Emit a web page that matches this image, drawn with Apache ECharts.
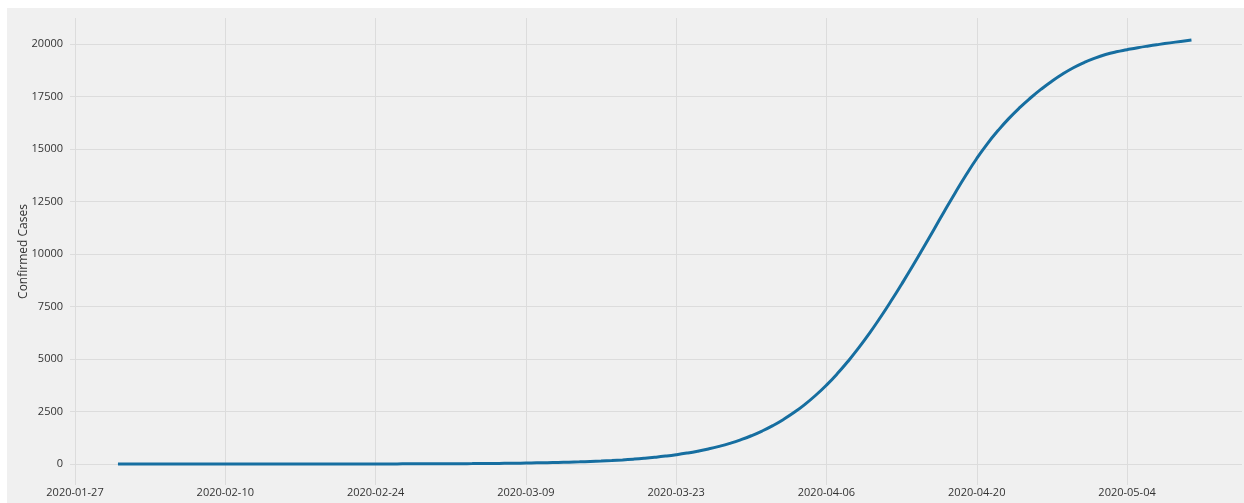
<!DOCTYPE html>
<html>
<head>
<meta charset="utf-8">
<script src="https://cdn.jsdelivr.net/npm/echarts@6/dist/echarts.min.js"></script>
<style>
  html, body { margin: 0; padding: 0; background: #ffffff; }
  #bg { position: absolute; left: 7px; top: 8px; width: 1237px; height: 495px; background: #f0f0f0; }
  #chart { position: absolute; left: 0; top: 0; width: 1244px; height: 503px; }
</style>
</head>
<body>
<div id="bg"></div>
<div id="chart"></div>
<script>
// ---- data ----
const dates = [
  '2020-01-31',
  '2020-02-01','2020-02-02','2020-02-03','2020-02-04','2020-02-05','2020-02-06','2020-02-07','2020-02-08','2020-02-09','2020-02-10',
  '2020-02-11','2020-02-12','2020-02-13','2020-02-14','2020-02-15','2020-02-16','2020-02-17','2020-02-18','2020-02-19','2020-02-20',
  '2020-02-21','2020-02-22','2020-02-23','2020-02-24','2020-02-25','2020-02-26','2020-02-27','2020-02-28','2020-02-29',
  '2020-03-01','2020-03-02','2020-03-03','2020-03-04','2020-03-05','2020-03-06','2020-03-07','2020-03-08','2020-03-09','2020-03-10',
  '2020-03-11','2020-03-12','2020-03-13','2020-03-14','2020-03-15','2020-03-16','2020-03-17','2020-03-18','2020-03-19','2020-03-20',
  '2020-03-21','2020-03-22','2020-03-23','2020-03-24','2020-03-25','2020-03-26','2020-03-27','2020-03-28','2020-03-29','2020-03-30','2020-03-31',
  '2020-04-01','2020-04-02','2020-04-03','2020-04-04','2020-04-05','2020-04-06','2020-04-07','2020-04-08','2020-04-09','2020-04-10',
  '2020-04-11','2020-04-12','2020-04-13','2020-04-14','2020-04-15','2020-04-16','2020-04-17','2020-04-18','2020-04-19','2020-04-20',
  '2020-04-21','2020-04-22','2020-04-23','2020-04-24','2020-04-25','2020-04-26','2020-04-27','2020-04-28','2020-04-29','2020-04-30',
  '2020-05-01','2020-05-02','2020-05-03','2020-05-04','2020-05-05','2020-05-06','2020-05-07','2020-05-08','2020-05-09','2020-05-10'
];
const confirmedCases = [
  0,
  0,0,0,0,0,0,0,0,0,0,
  0,0,0,1,1,1,1,2,2,2,
  3,3,4,4,5,6,7,8,10,
  12,14,16,19,23,27,32,38,45,54,
  64,75,88,103,121,142,167,196,231,272,
  320,376,442,520,611,717,841,985,1152,1345,1569,
  1827,2123,2460,2843,3274,3757,4294,4884,5529,6224,
  6966,7749,8564,9401,10270,11160,12050,12920,13760,14550,
  15260,15890,16460,16970,17430,17850,18230,18570,18870,19120,
  19330,19500,19630,19730,19825,19908,19984,20056,20125,20190
];
const xTickLabels = ['2020-01-27','2020-02-10','2020-02-24','2020-03-09','2020-03-23','2020-04-06','2020-04-20','2020-05-04'];
const yTickValues = [0, 2500, 5000, 7500, 10000, 12500, 15000, 17500, 20000];
const yAxisTitle = 'Confirmed Cases';

// ---- helpers ----
function localTime(s) {
  const p = s.split(/[- :]/).map(Number);
  return new Date(p[0], p[1] - 1, p[2], p[3] || 0, p[4] || 0).getTime();
}
function pad(n) { return (n < 10 ? '0' : '') + n; }
function fmtDate(v) {
  const d = new Date(v);
  return d.getFullYear() + '-' + pad(d.getMonth() + 1) + '-' + pad(d.getDate());
}

const xTickValues = xTickLabels.map(localTime);
const seriesData = dates.map((d, i) => [localTime(d), confirmedCases[i]]);

const chart = echarts.init(document.getElementById('chart'), null, { renderer: 'canvas' });
const labelFont = { fontFamily: 'Open Sans', fontSize: 11, color: '#333333' };

chart.setOption({
  backgroundColor: 'transparent',
  animation: false,
  grid: { left: 70, right: 2, top: 18, bottom: 18, containLabel: false },
  xAxis: {
    type: 'value',
    min: localTime('2020-01-26 12:49'),
    max: localTime('2020-05-14 17:00'),
    scale: true,
    axisLine: { show: false },
    axisTick: { show: false, customValues: xTickValues },
    axisLabel: Object.assign({ customValues: xTickValues, margin: 2, formatter: fmtDate, hideOverlap: false }, labelFont),
    splitLine: { show: true, lineStyle: { color: '#dcdcdc', width: 1 } }
  },
  yAxis: {
    type: 'value',
    min: -1000,
    max: 21240,
    name: yAxisTitle,
    nameLocation: 'middle',
    nameGap: 40,
    nameMoveOverlap: false,
    nameTextStyle: { fontFamily: 'Open Sans', fontSize: 12, color: '#333333' },
    axisLine: { show: false },
    axisTick: { show: false, customValues: yTickValues },
    axisLabel: Object.assign({ customValues: yTickValues, margin: 7, formatter: function (v) { return String(v); } }, labelFont),
    splitLine: { show: true, lineStyle: { color: '#dcdcdc', width: 1 } }
  },
  series: [{
    type: 'line',
    data: seriesData,
    showSymbol: false,
    symbol: 'none',
    smooth: 0.5,
    lineStyle: { color: '#166ea0', width: 3 },
    z: 3
  }]
});
</script>
</body>
</html>
